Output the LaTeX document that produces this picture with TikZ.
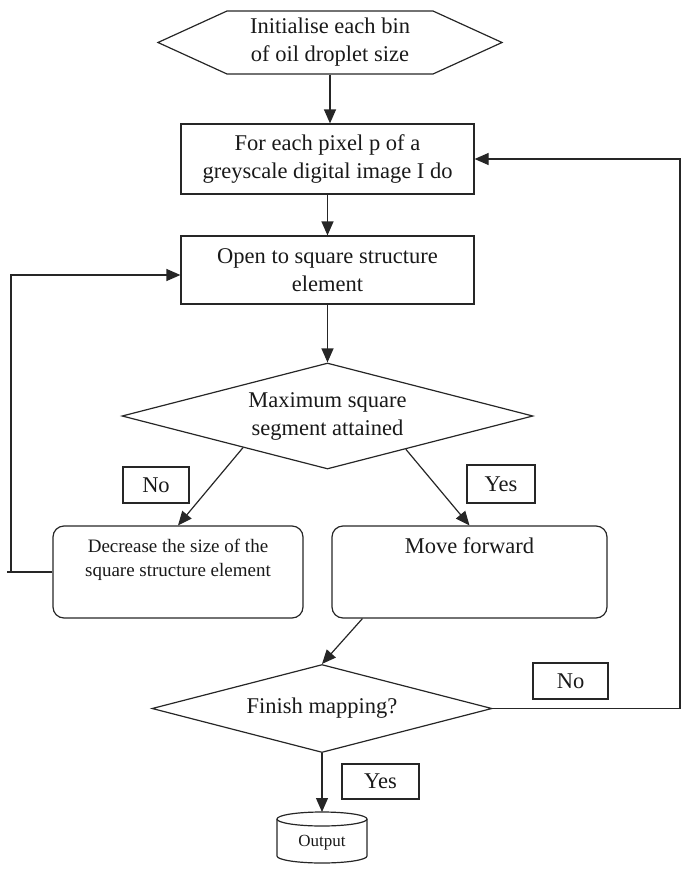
\documentclass[tikz,border=0pt]{standalone}
\usepackage{fontspec}
\setmainfont{Liberation Serif}
\usetikzlibrary{arrows.meta,shapes.geometric,calc}
\begin{document}
\begin{tikzpicture}[x=1pt,y=-1pt,
  line width=1.2pt, draw=black!85,
  every node/.style={font=\fontsize{22.5}{28}\selectfont, text=black!90},
  box/.style={draw, rectangle, inner sep=0pt, align=center},
  rbox/.style={draw, rectangle, rounded corners=11pt, inner sep=0pt},
  dia/.style={draw, diamond, inner sep=0pt, align=center},
  lab/.style={draw, rectangle, inner sep=0pt},
  arr/.style={-{Triangle[length=14pt,width=12pt]}},
]
\useasboundingbox (0,0) rectangle (681,870);

% hexagon
\draw (158,42.5) -- (227,11) -- (433,11) -- (502,42.5) -- (433,74) -- (227,74) -- cycle;
\node[inner sep=0pt, minimum width=344pt, minimum height=63pt, align=center] (init) at (330,42.5) {Initialise each bin\\of oil droplet size};

\node[box, minimum width=293pt, minimum height=70pt] (pix) at (327.5,159) {For each pixel p of a\\greyscale digital image I do};
\node[box, minimum width=293pt, minimum height=68pt] (open) at (327.5,270) {Open to square structure\\element};
\node[dia, minimum width=411pt, minimum height=106pt, aspect=3.88] (max) at (327.5,416) {Maximum square\\segment attained};

\node[lab, minimum width=66pt, minimum height=36pt] (no1) at (156,485) {No};
\node[lab, minimum width=68pt, minimum height=38pt] (yes1) at (501,484) {Yes};

\node[rbox, minimum width=250pt, minimum height=92pt] (dec) at (178,572) {};
\node[align=center, inner sep=0pt, anchor=north, font=\fontsize{19}{24}\selectfont] (decT) at (178,539) {Decrease the size of the\\square structure element};
\node[rbox, minimum width=275pt, minimum height=92pt] (mov) at (469.5,572) {};
\node[inner sep=0pt, anchor=base] (movT) at (469.5,553) {Move forward};

\node[dia, minimum width=340pt, minimum height=88pt, aspect=3.86] (fin) at (322,708.5) {Finish mapping?};
\node[lab, minimum width=75pt, minimum height=36pt] (no2) at (570.5,681) {No};
\node[lab, minimum width=77pt, minimum height=35pt] (yes2) at (380.5,781.5) {Yes};

% cylinder
\draw (277,819) -- (277,856) arc[start angle=180, end angle=360, x radius=45pt, y radius=7pt] -- (367,819);
\draw (322,819) ellipse[x radius=45pt, y radius=7pt];
\node[font=\fontsize{17}{20}\selectfont, inner sep=0pt] (out) at (322,843) {Output};
\coordinate (cyltop) at (322,812);

% connectors
\draw[arr] (init.south) -- (init.south |- pix.north);
\draw[arr] (pix.south) -- (open.north);
\draw[arr] (open.south) -- (max.north);
\draw[arr] ($(max.west)!0.59!(max.south)$) -- (dec.north);
\draw[arr] ($(max.south)!0.38!(max.east)$) -- (mov.north);
\draw[arr] ($(mov.south west)+(31,0)$) -- (fin.north);
\draw[arr] (fin.south) -- (cyltop);

\coordinate (rc) at (680,708.5);
\draw[arr] (fin.east) -- (fin.east -| rc) |- (pix.east);

\coordinate (lc) at (11,572);
\coordinate (lstub) at (7,572);
\draw (dec.west) -- (lstub);
\draw[arr] (lc) |- ($(open.west)+(0,5)$);
\end{tikzpicture}
\end{document}
